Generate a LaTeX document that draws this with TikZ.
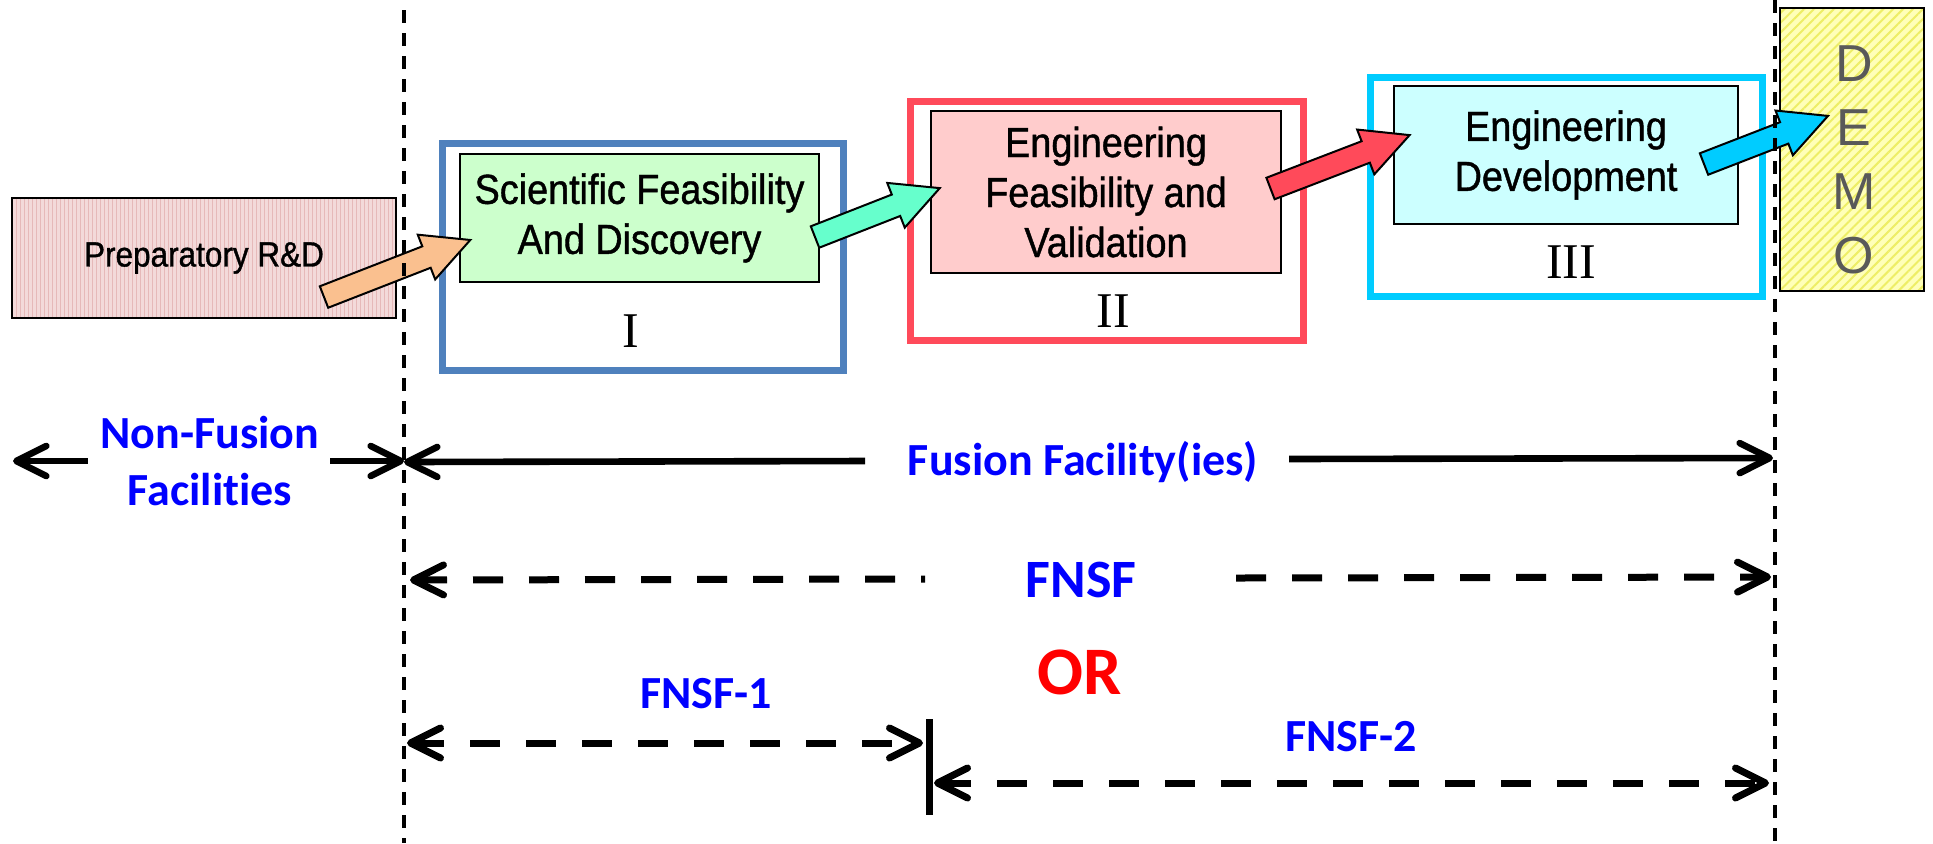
\documentclass[tikz,border=0pt]{standalone}
\usepackage{fontspec}
\usetikzlibrary{arrows.meta,patterns.meta}
\newfontfamily\narrowfont[FakeStretch=0.9,FakeBold=1.0]{Liberation Sans}
\newfontfamily\serifnum{Liberation Serif}
\newfontfamily\labfont[Ligatures=NoCommon]{Carlito}
\newfontfamily\demofont{Liberation Sans}
\definecolor{frameI}{HTML}{4F81BD}
\definecolor{frameII}{HTML}{FF4A5A}
\definecolor{frameIII}{HTML}{00CCFF}
\definecolor{fillI}{HTML}{CCFFCC}
\definecolor{fillII}{HTML}{FFCCCC}
\definecolor{fillIII}{HTML}{CCFFFF}
\definecolor{prepfill}{HTML}{F3DADA}
\definecolor{prepline}{HTML}{E6B9B9}
\definecolor{demofill}{HTML}{FFFFB8}
\definecolor{demoline}{HTML}{EEEE66}
\definecolor{demotext}{HTML}{595959}
\definecolor{orangeA}{HTML}{FAC08F}
\definecolor{mintA}{HTML}{66FFCC}
\definecolor{redA}{HTML}{FF4A5A}
\definecolor{cyanA}{HTML}{00CCFF}
\definecolor{fblue}{HTML}{0000FF}
\definecolor{fred}{HTML}{FF0000}
\newcommand{\blockarr}[4]{%
  \draw[fatarr, fill=#1, shift={(#2)}, rotate=#3]
    (0,-11.5) -- ({#4-47},-11.5) -- ({#4-47},-24) -- (#4,0) -- ({#4-47},24) -- ({#4-47},11.5) -- (0,11.5) -- cycle;}
\tikzset{
  Bb/.tip={Straight Barb[length=15pt,width=15pt,round]},
  frame/.style={draw, line width=3.5pt, inner sep=0pt},
  inbox/.style={draw=black, line width=1pt, inner sep=0pt, align=center,
    font=\narrowfont\fontsize{21}{25}\selectfont},
  roman/.style={font=\serifnum\fontsize{25}{30}\selectfont, inner sep=0pt},
  lab/.style={font=\labfont\bfseries\fontsize{23}{28.5}\selectfont, text=fblue, inner sep=0pt, align=center},
  guide/.style={draw=black, line width=1.8pt, dash pattern=on 6.5pt off 5pt},
  solidarr/.style={draw=black, line width=3.3pt},
  dimdash/.style={draw=black, line width=3.5pt, dash pattern=on 15pt off 13pt},
  fatarr/.style={draw=black, line width=1pt, line join=miter}
}
\begin{document}
\begin{tikzpicture}[x=0.5pt,y=-0.5pt]
\useasboundingbox (0,0) rectangle (1933,843);

% outer phase frames
\node[frame, draw=frameI, minimum width=200.5pt, minimum height=113.5pt] (frI) at (642.5,256.5) {};
\node[frame, draw=frameII, minimum width=196.5pt, minimum height=119.5pt] (frII) at (1106.5,220.5) {};
\node[frame, draw=frameIII, minimum width=196pt, minimum height=109.5pt] (frIII) at (1566,186.5) {};

% inner boxes
\node[inbox, fill=fillI, minimum width=179.5pt, minimum height=64pt] (sci) at (639.5,218) {Scientific Feasibility\\And Discovery};
\node[inbox, fill=fillII, minimum width=175pt, minimum height=81pt] (engf) at (1106,192) {Engineering\\Feasibility and\\Validation};
\node[inbox, fill=fillIII, minimum width=172pt, minimum height=69pt] (engd) at (1566,155) {Engineering\\Development};

% roman numerals
\node[roman] (nI) at (631,331) {I};
\node[roman] (nII) at (1113,311) {II};
\node[roman] (nIII) at (1571,262) {III};

% preparatory box
\node[draw, line width=1.2pt, preaction={fill=prepfill},
  pattern={Lines[angle=90,distance=2pt,line width=0.4pt]}, pattern color=prepline,
  minimum width=192pt, minimum height=60pt, inner sep=0pt,
  font=\narrowfont\fontsize{17.5}{21}\selectfont] (prep) at (204,258) {Preparatory R\&D};

% DEMO box
\node[draw, line width=1pt, preaction={fill=demofill},
  pattern={Lines[angle=45,distance=3.5pt,line width=1pt]}, pattern color=demoline,
  minimum width=72pt, minimum height=141.5pt, inner sep=0pt] (demo) at (1852,149.5) {};
\node[font=\demofont\fontsize{26}{32}\selectfont, text=demotext, align=center, inner sep=0pt] (demotxt) at (1854,160) {D\\E\\M\\O};

% block arrows
\blockarr{orangeA}{324,297}{21.3}{157}
\blockarr{mintA}{815,237}{21.4}{134}
\blockarr{redA}{1270.5,188.5}{21.0}{149}
\blockarr{cyanA}{1704,164}{21.2}{133}

% vertical dashed guides
\coordinate (gLt) at (404,10);
\coordinate (gLb) at (404,843);
\coordinate (gRt) at (1775,0);
\coordinate (gRb) at (1775,843);
\draw[guide] (gLt) -- (gLb);
\draw[guide] (gRt) -- (gRb);

% labels
\node[lab] (nonfus) at (210,461.5) {Non-Fusion\\Facilities};
\node[lab, anchor=base] (fusfac) at (1083,475) {Fusion Facility(ies)};
\node[lab, anchor=base, font=\labfont\bfseries\fontsize{27}{32}\selectfont] (fnsf) at (1081,597) {FNSF};
\node[lab, anchor=base, text=fred, font=\labfont\bfseries\fontsize{34}{40}\selectfont] (orlab) at (1080,694) {OR};
\node[lab, anchor=base] (fnsfA) at (706,708) {FNSF-1};
\node[lab, anchor=base] (fnsfB) at (1351,751) {FNSF-2};

% Non-fusion arrows
\coordinate (nfL) at (13,461);
\coordinate (nfLe) at (88,461);
\coordinate (nfRs) at (330,461);
\coordinate (nfR) at (404,461);
\draw[solidarr, arrows={Bb-}] (nfL) -- (nfLe);
\draw[solidarr, arrows={-Bb}] (nfRs) -- (nfR);

% Fusion facility arrows
\coordinate (ffL) at (404,462);
\coordinate (ffLe) at (865,461);
\coordinate (ffRs) at (1289,459);
\coordinate (ffR) at (1773,458);
\draw[solidarr, arrows={Bb-}] (ffL) -- (ffLe);
\draw[solidarr, arrows={-Bb}] (ffRs) -- (ffR);

% FNSF arrows
\coordinate (fsL) at (410,580);
\coordinate (fsLe) at (925,579);
\coordinate (fsRs) at (1236,578);
\coordinate (fsR) at (1771,577);
\draw[dimdash, arrows={Bb-}] (fsL) -- (fsLe);
\draw[dimdash, arrows={-Bb}] (fsRs) -- (fsR);

% FNSF-1 / FNSF-2
\coordinate (f1L) at (407,743);
\coordinate (f1R) at (923,743);
\draw[dimdash, arrows={Bb-Bb}] (f1L) -- (f1R);
\coordinate (barT) at (929,719);
\coordinate (barB) at (929,815);
\draw[line width=3.5pt] (barT) -- (barB);
\coordinate (f2L) at (934,783);
\coordinate (f2R) at (1769,783);
\draw[dimdash, arrows={Bb-Bb}] (f2L) -- (f2R);
\end{tikzpicture}
\end{document}
